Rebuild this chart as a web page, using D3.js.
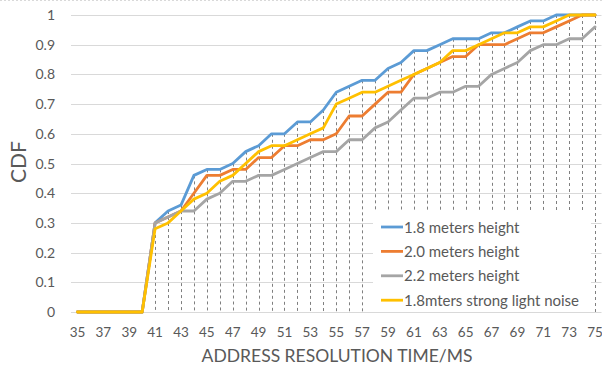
<!DOCTYPE html>
<head>
<meta charset="utf-8">
<style>
html, body { margin:0; padding:0; overflow:hidden; background:#fff; }
svg { display:block; }
text { font-family: Lato, "Open Sans", sans-serif; fill:#595959; }
</style>
</head>
<body>
<svg id="stage" width="602" height="372"></svg>
<script src="https://d3js.org/d3.v7.min.js"></script>
<script>

// x categories (ms)
var times = [35,36,37,38,39,40,41,42,43,44,45,46,47,48,49,50,51,52,53,54,55,
             56,57,58,59,60,61,62,63,64,65,66,67,68,69,70,71,72,73,74,75];

var h18 = [0,0,0,0,0,0,
  .30,.34,.36,.46,.48,.48,.50,.54,.56,.60,
  .60,.64,.64,.68,.74,.76,.78,.78,.82,.84,
  .88,.88,.90,.92,.92,.92,.94,.94,.96,.98,
  .98,1,1,1,1];
var h20 = [0,0,0,0,0,0,
  .30,.32,.34,.40,.46,.46,.48,.48,.52,.52,
  .56,.56,.58,.58,.60,.66,.66,.70,.74,.74,
  .80,.82,.84,.86,.86,.90,.90,.90,.92,.94,
  .94,.96,.98,1,1];
var h22 = [0,0,0,0,0,0,
  .30,.32,.34,.34,.38,.40,.44,.44,.46,.46,
  .48,.50,.52,.54,.54,.58,.58,.62,.64,.68,
  .72,.72,.74,.74,.76,.76,.80,.82,.84,.88,
  .90,.90,.92,.92,.96];
var noise = [0,0,0,0,0,0,
  .28,.30,.34,.38,.40,.44,.46,.50,.54,.56,
  .56,.58,.60,.62,.70,.72,.74,.74,.76,.78,
  .80,.82,.84,.88,.88,.90,.92,.94,.94,.96,
  .96,.98,1,1,1];

var names = ["1.8 meters height", "2.0 meters height", "2.2 meters height", "1.8mters strong light noise"];
var colors = ["#5B9BD5", "#ED7D31", "#A5A5A5", "#FFC000"];
var yTicks = [0,.1,.2,.3,.4,.5,.6,.7,.8,.9,1];

var svg = d3.select("#stage");

var x = d3.scaleBand().domain(times).range([71, 601.5]);
var cx = function(t) { return x(t) + x.bandwidth() / 2; };
var y = d3.scaleLinear().domain([0, 1]).range([312, 15]);

// top border
svg.append("line").attr("x1", 0).attr("x2", 602).attr("y1", 0.5).attr("y2", 0.5)
  .attr("stroke", "#d9d9d9").attr("stroke-dasharray", "2,2");

// gridlines
svg.append("g").selectAll("line").data(yTicks).enter().append("line")
  .attr("x1", 71).attr("x2", 601.5)
  .attr("y1", function(d) { return Math.round(y(d)) + 0.5; })
  .attr("y2", function(d) { return Math.round(y(d)) + 0.5; })
  .attr("stroke", "#d9d9d9").attr("stroke-width", 1);

// y tick labels
svg.append("g").selectAll("text").data(yTicks).enter().append("text")
  .attr("x", 55).attr("y", function(d) { return y(d) + 5; })
  .attr("text-anchor", "end").style("font-size", "14px")
  .text(function(d) { return d3.format("")(+d.toFixed(1)); });

// x tick labels (every other)
svg.append("g").selectAll("text").data(times.filter(function(t, i) { return i % 2 == 0; }))
  .enter().append("text")
  .attr("x", function(t) { return cx(t); }).attr("y", 337)
  .attr("text-anchor", "middle").style("font-size", "13.5px")
  .text(function(t) { return t; });

// drop lines
var series = [h18, h20, h22, noise];
var tops = times.map(function(t, i) { return d3.max(series, function(s) { return s[i]; }); });
svg.append("g").selectAll("line").data(times.filter(function(t, i) { return tops[i] > 0; }))
  .enter().append("line")
  .attr("x1", function(t) { return Math.round(cx(t)) + 0.5; })
  .attr("x2", function(t) { return Math.round(cx(t)) + 0.5; })
  .attr("y1", function(t) { return y(tops[times.indexOf(t)]); })
  .attr("y2", y(0))
  .attr("stroke", "#7f7f7f").attr("stroke-width", 1).attr("stroke-dasharray", "3,3");

// series lines
var line = d3.line()
  .x(function(d, i) { return cx(times[i]); })
  .y(function(d) { return y(d); });

svg.append("g").selectAll("path").data(series).enter().append("path")
  .attr("d", line)
  .attr("fill", "none")
  .attr("stroke", function(d, i) { return colors[i]; })
  .attr("stroke-width", 2.8)
  .attr("stroke-linejoin", "round")
  .attr("stroke-linecap", "round");

// legend
var lg = svg.append("g");
lg.append("rect").attr("x", 373).attr("y", 212).attr("width", 218).attr("height", 100).attr("fill", "#fff");
var items = lg.selectAll("g").data(names).enter().append("g")
  .attr("transform", function(d, i) { return "translate(0," + (227 + i * 24.4) + ")"; });
items.append("line").attr("x1", 381).attr("x2", 403).attr("y1", 0).attr("y2", 0)
  .attr("stroke", function(d, i) { return colors[i]; }).attr("stroke-width", 2.8);
items.append("text").attr("x", 404).attr("y", 5.5).style("font-size", "15px")
  .text(function(d) { return d; });

// axis titles
svg.append("text").attr("transform", "translate(26,162) rotate(-90)")
  .attr("text-anchor", "middle").style("font-size", "21px").text("CDF");
svg.append("text").attr("x", 337).attr("y", 362)
  .attr("text-anchor", "middle").style("font-size", "17.5px").text("ADDRESS RESOLUTION TIME/MS");

</script>
